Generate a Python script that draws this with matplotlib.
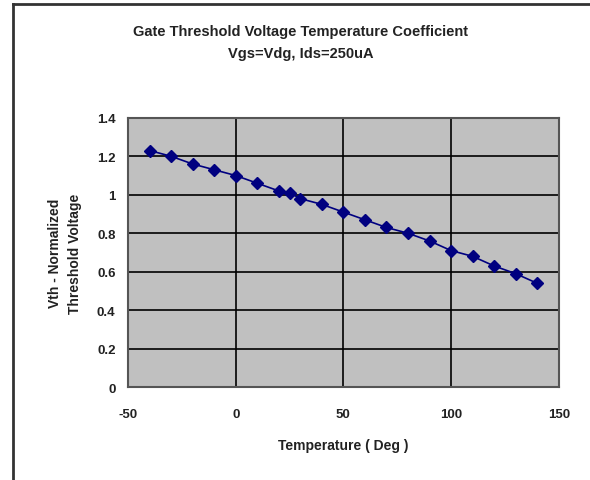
import matplotlib
matplotlib.use("Agg")
import matplotlib.pyplot as plt
from matplotlib.lines import Line2D

plt.rcParams['font.family'] = ['Liberation Sans', 'DejaVu Sans']
plt.rcParams['axes.unicode_minus'] = False

temps = [-40, -30, -20, -10, 0, 10, 20, 25, 30, 40, 50, 60, 70, 80, 90, 100, 110, 120, 130, 140]
vth = [1.23, 1.20, 1.16, 1.13, 1.10, 1.06, 1.02, 1.01, 0.98, 0.95, 0.91, 0.87, 0.83, 0.80,
       0.76, 0.71, 0.68, 0.63, 0.59, 0.54]

fig = plt.figure(figsize=(5.9, 4.81), dpi=100)
ax = fig.add_axes([0.217, 0.193, 0.730, 0.560])
ax.set_facecolor('#c0c0c0')

ax.plot(temps, vth, color='#000080', lw=1.2, marker='D', ms=6, mfc='#000080', mec='#000080', zorder=3)

ax.set_xlim(-50, 150)
ax.set_ylim(0, 1.4)
ax.set_xticks([-50, 0, 50, 100, 150])
ax.set_yticks([0, 0.2, 0.4, 0.6, 0.8, 1.0, 1.2, 1.4])
ax.set_yticklabels(['0', '0.2', '0.4', '0.6', '0.8', '1', '1.2', '1.4'])
ax.grid(True, color='black', lw=1.2)
ax.set_axisbelow(True)
ax.tick_params(length=0, labelsize=9.5)
ax.tick_params(axis='x', pad=15)
ax.tick_params(axis='y', pad=9)
for lab in ax.get_xticklabels() + ax.get_yticklabels():
    lab.set_fontweight('bold')
    lab.set_color('#222222')
for s in ax.spines.values():
    s.set_color('#555555')
    s.set_linewidth(1.5)

ax.set_xlabel('Temperature ( Deg )', fontsize=10, fontweight='bold', color='#222222')
ax.xaxis.set_label_coords(0.5, -0.19)
ax.set_ylabel('Vth - Normalized\nThreshold Voltage', fontsize=10, fontweight='bold',
              color='#222222', linespacing=1.5)
ax.yaxis.set_label_coords(-0.108, 0.5)

fig.text(0.51, 0.934, 'Gate Threshold Voltage Temperature Coefficient', ha='center', va='center',
         fontsize=10.5, fontweight='bold', color='#222222')
fig.text(0.51, 0.888, 'Vgs=Vdg, Ids=250uA', ha='center', va='center', fontsize=10.5,
         fontweight='bold', color='#222222')

# page frame (top and left edges)
fig.add_artist(Line2D([0.022, 1.0], [0.99, 0.99], transform=fig.transFigure, color='#333333', lw=2))
fig.add_artist(Line2D([0.022, 0.022], [0.0, 0.99], transform=fig.transFigure, color='#333333', lw=2))

fig.savefig('out.png', dpi=100)
